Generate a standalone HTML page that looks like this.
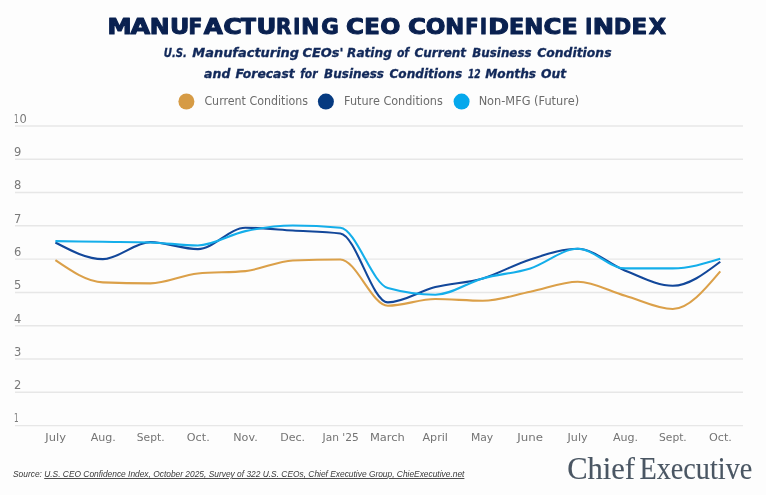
<!DOCTYPE html>
<html><head><meta charset="utf-8">
<style>
html,body{margin:0;padding:0;background:#fff;}
body{width:768px;height:495px;overflow:hidden;position:relative;}
svg{position:absolute;left:0;top:0;filter:blur(0.35px);}
.g{stroke:#e7e7e7;stroke-width:1.45;}
.yl{font-family:"DejaVu Sans", "Liberation Sans", sans-serif;font-size:11.5px;fill:#7a7a7a;}
.xl{font-family:"DejaVu Sans", "Liberation Sans", sans-serif;font-size:11px;fill:#747474;}
.ln{fill:none;stroke-width:2.1;stroke-linejoin:round;stroke-linecap:butt;}
.title{font-family:"DejaVu Sans", "Liberation Sans", sans-serif;font-weight:bold;font-size:21.8px;fill:#0a2150;stroke:#0a2150;stroke-width:1.1px;stroke-linejoin:round;}
.sub{font-family:"DejaVu Sans", "Liberation Sans", sans-serif;font-weight:bold;font-style:italic;font-size:12.9px;fill:#12295a;stroke:#12295a;stroke-width:0.35px;}
.leg{font-family:"DejaVu Sans", "Liberation Sans", sans-serif;font-size:11.8px;fill:#6c6c6c;}
.src{font-family:"Liberation Sans",sans-serif;font-style:italic;font-size:9px;fill:#3a3a3a;}
.logo{font-family:"Liberation Serif",serif;font-size:32px;fill:#4a5663;stroke:#4a5663;stroke-width:0.15px;}
</style></head>
<body>
<svg width="768" height="495" viewBox="0 0 768 495">
<rect x="0" y="0" width="766" height="495" fill="#fdfdfd"/>
<text y="33.8" class="title"><tspan x="107.53" textLength="24.10" lengthAdjust="spacingAndGlyphs">M</tspan><tspan x="130.45" textLength="19.65" lengthAdjust="spacingAndGlyphs">A</tspan><tspan x="149.68" textLength="19.82" lengthAdjust="spacingAndGlyphs">N</tspan><tspan x="169.96" textLength="19.34" lengthAdjust="spacingAndGlyphs">U</tspan><tspan x="188.60" textLength="13.77" lengthAdjust="spacingAndGlyphs">F</tspan><tspan x="203.65" textLength="19.05" lengthAdjust="spacingAndGlyphs">A</tspan><tspan x="223.29" textLength="18.51" lengthAdjust="spacingAndGlyphs">C</tspan><tspan x="240.85" textLength="15.17" lengthAdjust="spacingAndGlyphs">T</tspan><tspan x="256.41" textLength="19.85" lengthAdjust="spacingAndGlyphs">U</tspan><tspan x="275.91" textLength="15.44" lengthAdjust="spacingAndGlyphs">R</tspan><tspan x="293.23" textLength="6.97" lengthAdjust="spacingAndGlyphs">I</tspan><tspan x="301.18" textLength="18.00" lengthAdjust="spacingAndGlyphs">N</tspan><tspan x="321.27" textLength="17.56" lengthAdjust="spacingAndGlyphs">G</tspan> <tspan x="346.03" textLength="17.94" lengthAdjust="spacingAndGlyphs">C</tspan><tspan x="364.27" textLength="15.51" lengthAdjust="spacingAndGlyphs">E</tspan><tspan x="380.26" textLength="20.16" lengthAdjust="spacingAndGlyphs">O</tspan> <tspan x="407.93" textLength="17.94" lengthAdjust="spacingAndGlyphs">C</tspan><tspan x="425.69" textLength="19.62" lengthAdjust="spacingAndGlyphs">O</tspan><tspan x="445.17" textLength="18.97" lengthAdjust="spacingAndGlyphs">N</tspan><tspan x="465.37" textLength="13.28" lengthAdjust="spacingAndGlyphs">F</tspan><tspan x="480.03" textLength="6.97" lengthAdjust="spacingAndGlyphs">I</tspan><tspan x="488.17" textLength="20.63" lengthAdjust="spacingAndGlyphs">D</tspan><tspan x="508.92" textLength="15.14" lengthAdjust="spacingAndGlyphs">E</tspan><tspan x="524.16" textLength="19.09" lengthAdjust="spacingAndGlyphs">N</tspan><tspan x="543.43" textLength="17.94" lengthAdjust="spacingAndGlyphs">C</tspan><tspan x="561.48" textLength="16.13" lengthAdjust="spacingAndGlyphs">E</tspan> <tspan x="585.13" textLength="6.97" lengthAdjust="spacingAndGlyphs">I</tspan><tspan x="592.72" textLength="21.28" lengthAdjust="spacingAndGlyphs">N</tspan><tspan x="614.06" textLength="17.13" lengthAdjust="spacingAndGlyphs">D</tspan><tspan x="631.45" textLength="15.63" lengthAdjust="spacingAndGlyphs">E</tspan><tspan x="648.65" textLength="17.30" lengthAdjust="spacingAndGlyphs">X</tspan></text>
<text y="57.3" class="sub"><tspan x="163.68" textLength="23.25" lengthAdjust="spacingAndGlyphs">U.S.</tspan> <tspan x="192.38" textLength="106.67" lengthAdjust="spacingAndGlyphs">Manufacturing</tspan> <tspan x="302.48" textLength="40.89" lengthAdjust="spacingAndGlyphs">CEOs'</tspan> <tspan x="347.08" textLength="44.75" lengthAdjust="spacingAndGlyphs">Rating</tspan> <tspan x="396.88" textLength="12.17" lengthAdjust="spacingAndGlyphs">of</tspan> <tspan x="414.48" textLength="51.56" lengthAdjust="spacingAndGlyphs">Current</tspan> <tspan x="472.28" textLength="59.24" lengthAdjust="spacingAndGlyphs">Business</tspan> <tspan x="537.18" textLength="74.33" lengthAdjust="spacingAndGlyphs">Conditions</tspan></text>
<text y="77.5" class="sub"><tspan x="204.08" textLength="26.29" lengthAdjust="spacingAndGlyphs">and</tspan> <tspan x="235.38" textLength="59.34" lengthAdjust="spacingAndGlyphs">Forecast</tspan> <tspan x="300.18" textLength="17.37" lengthAdjust="spacingAndGlyphs">for</tspan> <tspan x="324.08" textLength="59.94" lengthAdjust="spacingAndGlyphs">Business</tspan> <tspan x="389.48" textLength="72.63" lengthAdjust="spacingAndGlyphs">Conditions</tspan> <tspan x="467.98" textLength="12.62" lengthAdjust="spacingAndGlyphs">12</tspan> <tspan x="485.18" textLength="50.93" lengthAdjust="spacingAndGlyphs">Months</tspan> <tspan x="541.08" textLength="25.14" lengthAdjust="spacingAndGlyphs">Out</tspan></text>
<circle cx="186.4" cy="101.5" r="8" fill="#d69b45"/>
<text x="204.40" y="105.2" class="leg" textLength="103.64" lengthAdjust="spacingAndGlyphs">Current Conditions</text>
<circle cx="325.9" cy="101.6" r="8" fill="#063a80"/>
<text x="344.05" y="105.2" class="leg" textLength="98.79" lengthAdjust="spacingAndGlyphs">Future Conditions</text>
<circle cx="461.6" cy="101.6" r="8" fill="#05a8ec"/>
<text x="478.64" y="105.2" class="leg" textLength="100.44" lengthAdjust="spacingAndGlyphs">Non-MFG (Future)</text>

<line x1="15" y1="425.6" x2="743" y2="425.6" class="g"/>
<text x="13.9" y="422.4" class="yl"><tspan textLength="4.6" lengthAdjust="spacingAndGlyphs">1</tspan></text>
<line x1="15" y1="392.3" x2="743" y2="392.3" class="g"/>
<text x="13.9" y="389.1" class="yl">2</text>
<line x1="15" y1="359.0" x2="743" y2="359.0" class="g"/>
<text x="13.9" y="355.8" class="yl">3</text>
<line x1="15" y1="325.7" x2="743" y2="325.7" class="g"/>
<text x="13.9" y="322.5" class="yl">4</text>
<line x1="15" y1="292.4" x2="743" y2="292.4" class="g"/>
<text x="13.9" y="289.2" class="yl">5</text>
<line x1="15" y1="259.1" x2="743" y2="259.1" class="g"/>
<text x="13.9" y="255.9" class="yl">6</text>
<line x1="15" y1="225.8" x2="743" y2="225.8" class="g"/>
<text x="13.9" y="222.6" class="yl">7</text>
<line x1="15" y1="192.5" x2="743" y2="192.5" class="g"/>
<text x="13.9" y="189.3" class="yl">8</text>
<line x1="15" y1="159.2" x2="743" y2="159.2" class="g"/>
<text x="13.9" y="156.0" class="yl">9</text>
<line x1="15" y1="125.9" x2="743" y2="125.9" class="g"/>
<text x="13.9" y="122.7" class="yl"><tspan textLength="4.6" lengthAdjust="spacingAndGlyphs">1</tspan><tspan x="19.5">0</tspan></text>

<text x="45.34" y="441.3" class="xl" textLength="20.64" lengthAdjust="spacingAndGlyphs">July</text>
<text x="90.70" y="441.3" class="xl" textLength="25.20" lengthAdjust="spacingAndGlyphs">Aug.</text>
<text x="136.80" y="441.3" class="xl" textLength="27.78" lengthAdjust="spacingAndGlyphs">Sept.</text>
<text x="186.80" y="441.3" class="xl" textLength="22.91" lengthAdjust="spacingAndGlyphs">Oct.</text>
<text x="233.29" y="441.3" class="xl" textLength="24.42" lengthAdjust="spacingAndGlyphs">Nov.</text>
<text x="280.20" y="441.3" class="xl" textLength="24.90" lengthAdjust="spacingAndGlyphs">Dec.</text>
<text x="322.57" y="441.3" class="xl" textLength="36.23" lengthAdjust="spacingAndGlyphs">Jan '25</text>
<text x="369.96" y="441.3" class="xl" textLength="34.91" lengthAdjust="spacingAndGlyphs">March</text>
<text x="422.50" y="441.3" class="xl" textLength="25.46" lengthAdjust="spacingAndGlyphs">April</text>
<text x="470.92" y="441.3" class="xl" textLength="22.35" lengthAdjust="spacingAndGlyphs">May</text>
<text x="517.32" y="441.3" class="xl" textLength="25.73" lengthAdjust="spacingAndGlyphs">June</text>
<text x="567.52" y="441.3" class="xl" textLength="20.09" lengthAdjust="spacingAndGlyphs">July</text>
<text x="612.90" y="441.3" class="xl" textLength="25.20" lengthAdjust="spacingAndGlyphs">Aug.</text>
<text x="659.00" y="441.3" class="xl" textLength="27.78" lengthAdjust="spacingAndGlyphs">Sept.</text>
<text x="709.00" y="441.3" class="xl" textLength="22.91" lengthAdjust="spacingAndGlyphs">Oct.</text>

<path class="ln" stroke="#dba049" d="M55.40,260.10 C71.23,270.92 87.06,281.74 102.89,282.41 C118.72,283.08 134.55,283.41 150.38,283.41 C166.21,283.41 182.04,274.97 197.87,273.42 C213.70,271.86 229.53,272.64 245.36,271.09 C261.19,269.53 277.02,261.10 292.85,260.43 C308.68,259.77 324.51,259.43 340.34,259.43 C356.17,259.43 372.00,305.72 387.83,305.72 C403.66,305.72 419.49,299.06 435.32,299.06 C451.15,299.06 466.98,300.73 482.81,300.73 C498.64,300.73 514.47,294.90 530.30,291.73 C546.13,288.57 561.96,281.74 577.79,281.74 C593.62,281.74 609.45,291.18 625.28,295.73 C641.11,300.28 656.94,309.05 672.77,309.05 C688.60,309.05 704.43,290.24 720.26,271.42"/>
<path class="ln" stroke="#12479a" d="M55.40,242.45 C71.23,250.78 87.06,259.10 102.89,259.10 C118.72,259.10 134.55,242.12 150.38,242.12 C166.21,242.12 182.04,249.11 197.87,249.11 C213.70,249.11 229.53,227.80 245.36,227.80 C261.19,227.80 277.02,229.52 292.85,230.46 C308.68,231.41 324.51,231.46 340.34,233.46 C356.17,235.46 372.00,302.39 387.83,302.39 C403.66,302.39 419.49,291.07 435.32,287.07 C451.15,283.08 466.98,283.02 482.81,278.41 C498.64,273.81 514.47,264.37 530.30,259.43 C546.13,254.49 561.96,248.78 577.79,248.78 C593.62,248.78 609.45,264.59 625.28,270.75 C641.11,276.92 656.94,285.74 672.77,285.74 C688.60,285.74 704.43,273.75 720.26,261.76"/>
<path class="ln" stroke="#14aeea" d="M55.40,241.12 C71.23,241.34 87.06,241.56 102.89,241.78 C118.72,242.01 134.55,242.01 150.38,242.45 C166.21,242.89 182.04,245.45 197.87,245.45 C213.70,245.45 229.53,234.46 245.36,231.13 C261.19,227.80 277.02,225.47 292.85,225.47 C308.68,225.47 324.51,226.24 340.34,227.80 C356.17,229.35 372.00,283.63 387.83,288.07 C403.66,292.51 419.49,294.73 435.32,294.73 C451.15,294.73 466.98,282.80 482.81,278.41 C498.64,274.03 514.47,273.36 530.30,268.42 C546.13,263.48 561.96,248.78 577.79,248.78 C593.62,248.78 609.45,268.42 625.28,268.42 C641.11,268.42 656.94,268.42 672.77,268.42 C688.60,268.42 704.43,263.60 720.26,258.77"/>
<text x="13" y="477" class="src" textLength="451.4" lengthAdjust="spacingAndGlyphs">Source: <tspan text-decoration="underline">U.S. CEO Confidence Index, October 2025, Survey of 322 U.S. CEOs, Chief Executive Group, ChieExecutive.net</tspan></text>
<text y="479" class="logo"><tspan x="567.20" textLength="67.83" lengthAdjust="spacingAndGlyphs">Chief</tspan> <tspan x="639.55" textLength="112.68" lengthAdjust="spacingAndGlyphs">Executive</tspan></text>
</svg>
</body></html>
